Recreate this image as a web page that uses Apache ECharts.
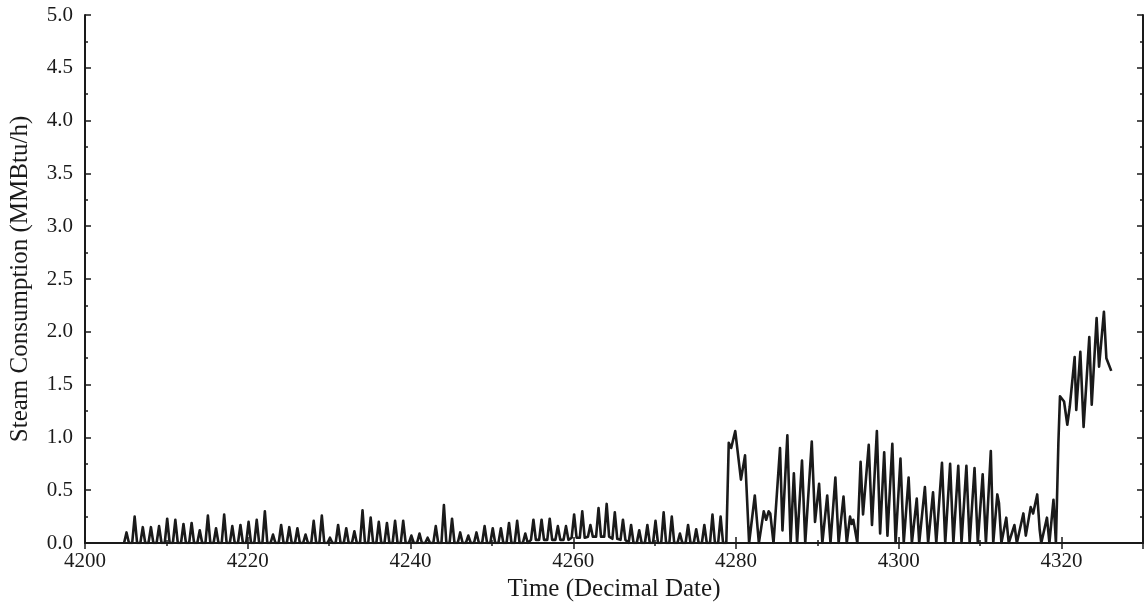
<!DOCTYPE html>
<html>
<head>
<meta charset="utf-8">
<script src="https://cdn.jsdelivr.net/npm/echarts@6/dist/echarts.min.js"></script>
<style>
  html, body { margin: 0; padding: 0; background: #fff; }
  #chart { width: 1146px; height: 610px; }
</style>
</head>
<body>
<div id="chart"></div>
<script>
// daily spikes, one value per day starting at firstDay
const firstDay = 4205
const dailyPeak = [
  0.10, 0.25, 0.15, 0.15, 0.16, 0.23, 0.22, 0.18, 0.19, 0.12,
  0.26, 0.14, 0.27, 0.16, 0.17, 0.20, 0.22, 0.30, 0.08, 0.17,
  0.15, 0.14, 0.08, 0.21, 0.26, 0.05, 0.17, 0.14, 0.11, 0.31,
  0.24, 0.20, 0.19, 0.21, 0.21, 0.07, 0.09, 0.05, 0.16, 0.36,
  0.23, 0.10, 0.07, 0.10, 0.16, 0.14, 0.14, 0.19, 0.21, 0.09,
  0.22, 0.22, 0.23, 0.16, 0.16, 0.27, 0.30, 0.17, 0.33, 0.37,
  0.29, 0.22, 0.17, 0.12, 0.17, 0.21, 0.29, 0.25, 0.09, 0.17,
  0.13, 0.17, 0.27, 0.25,
]
const dailyBase = [
  0, 0, 0, 0, 0, 0, 0, 0, 0, 0,
  0, 0, 0, 0, 0, 0, 0, 0, 0, 0,
  0, 0, 0, 0, 0, 0, 0, 0, 0, 0,
  0, 0, 0, 0, 0, 0, 0, 0, 0, 0,
  0, 0, 0, 0, 0, 0, 0, 0, 0, 0,
  0.03, 0.03, 0.03, 0.03, 0.03, 0.05, 0.05, 0.06, 0.06, 0.06,
  0.04, 0.03, 0, 0, 0, 0, 0, 0, 0, 0,
  0, 0, 0, 0,
]

// irregular part after 4278, read point by point
const lateTime = [
  4278.8, 4279.1, 4279.4, 4279.9, 4280.6, 4281.1, 4281.6,
  4282.3, 4282.8, 4283.1, 4283.4, 4283.7, 4284.0, 4284.2, 4284.6,
  4285.4, 4285.7, 4286.3, 4286.7, 4287.1, 4287.5, 4288.1, 4288.5,
  4289.3, 4289.7, 4290.2, 4290.6, 4291.2, 4291.6, 4292.2, 4292.6,
  4293.2, 4293.6, 4294.0, 4294.2, 4294.4, 4294.9,
  4295.3, 4295.6, 4296.3, 4296.7, 4297.3, 4297.7, 4298.2, 4298.6,
  4299.2, 4299.6, 4300.2, 4300.6, 4301.2, 4301.6, 4302.2, 4302.5,
  4303.2, 4303.6, 4304.2, 4304.6, 4305.3, 4305.7, 4306.3, 4306.7,
  4307.3, 4307.7, 4308.3, 4308.7, 4309.3, 4309.7, 4310.3, 4310.7,
  4311.3, 4311.6, 4312.1, 4312.3, 4312.6, 4313.2, 4313.5, 4314.2, 4314.5,
  4315.3, 4315.6, 4316.2, 4316.5, 4317.0, 4317.3, 4317.5, 4318.2, 4318.5,
  4319.0, 4319.3, 4319.6, 4319.8, 4320.3, 4320.7, 4321.0, 4321.6, 4321.8,
  4322.3, 4322.7, 4323.4, 4323.7, 4324.3, 4324.6, 4325.2, 4325.5, 4326.1,
]
const lateSteam = [
  0, 0.95, 0.9, 1.06, 0.6, 0.83, 0,
  0.45, 0, 0.15, 0.3, 0.22, 0.3, 0.28, 0,
  0.9, 0.12, 1.02, 0, 0.66, 0, 0.78, 0,
  0.96, 0.2, 0.56, 0, 0.45, 0, 0.62, 0,
  0.44, 0, 0.25, 0.18, 0.22, 0,
  0.77, 0.27, 0.93, 0.17, 1.06, 0.09, 0.86, 0.07,
  0.94, 0, 0.8, 0, 0.62, 0, 0.42, 0,
  0.53, 0, 0.48, 0, 0.76, 0, 0.75, 0,
  0.73, 0, 0.73, 0, 0.71, 0, 0.65, 0,
  0.87, 0, 0.46, 0.38, 0, 0.24, 0, 0.17, 0,
  0.28, 0.07, 0.34, 0.28, 0.46, 0.13, 0, 0.24, 0,
  0.41, 0, 0.94, 1.39, 1.34, 1.12, 1.29, 1.76, 1.26,
  1.81, 1.10, 1.95, 1.31, 2.13, 1.67, 2.19, 1.75, 1.63,
]

const seriesData = []
dailyPeak.forEach((p, i) => {
  const d = firstDay + i
  seriesData.push([d - 0.2, dailyBase[i]])
  seriesData.push([d + 0.1, p])
  seriesData.push([d + 0.4, dailyBase[i]])
})
lateTime.forEach((t, i) => {
  seriesData.push([t, lateSteam[i]])
})

const ink = '#1a1a1a'
const font = 'Liberation Serif'

// shared tick styling for all four sides of the frame
const tickStyle = {
  axisLine: {
    lineStyle: { color: ink, width: 2 },
  },
  axisTick: {
    inside: true,
    length: 6,
    lineStyle: { color: ink, width: 1.5 },
  },
  minorTick: {
    show: true,
    splitNumber: 2,
    length: 3,
    lineStyle: { color: ink, width: 1.5 },
  },
  splitLine: { show: false },
}

const chart = echarts.init(document.getElementById('chart'))
const option = {
  animation: false,
  backgroundColor: '#fff',
  grid: {
    left: 85,
    right: 3,
    top: 15,
    bottom: 67,
  },
  xAxis: [{
    type: 'value',
    min: 4200,
    max: 4330,
    interval: 20,
    name: 'Time (Decimal Date)',
    nameLocation: 'middle',
    nameGap: 34,
    nameTextStyle: {
      color: ink,
      fontFamily: font,
      fontSize: 25,
    },
    ...tickStyle,
    axisLabel: {
      showMaxLabel: false,
      color: ink,
      fontFamily: font,
      fontSize: 21,
      margin: 8,
      formatter: (v) => String(v),
    },
  }, {
    type: 'value',
    position: 'top',
    min: 4200,
    max: 4330,
    interval: 20,
    ...tickStyle,
    axisLabel: { show: false },
  }],
  yAxis: [{
    type: 'value',
    min: 0,
    max: 5,
    interval: 0.5,
    name: 'Steam Consumption (MMBtu/h)',
    nameLocation: 'middle',
    nameGap: 52,
    nameTextStyle: {
      color: ink,
      fontFamily: font,
      fontSize: 25,
    },
    ...tickStyle,
    axisLabel: {
      color: ink,
      fontFamily: font,
      fontSize: 21,
      margin: 12,
      formatter: (v) => v.toFixed(1),
    },
  }, {
    type: 'value',
    position: 'right',
    min: 0,
    max: 5,
    interval: 0.5,
    ...tickStyle,
    axisLabel: { show: false },
  }],
  series: [{
    type: 'line',
    xAxisIndex: 0,
    yAxisIndex: 0,
    showSymbol: false,
    lineStyle: {
      color: ink,
      width: 2.6,
      join: 'round',
    },
    data: seriesData,
  }],
}
chart.setOption(option)
</script>
</body>
</html>
